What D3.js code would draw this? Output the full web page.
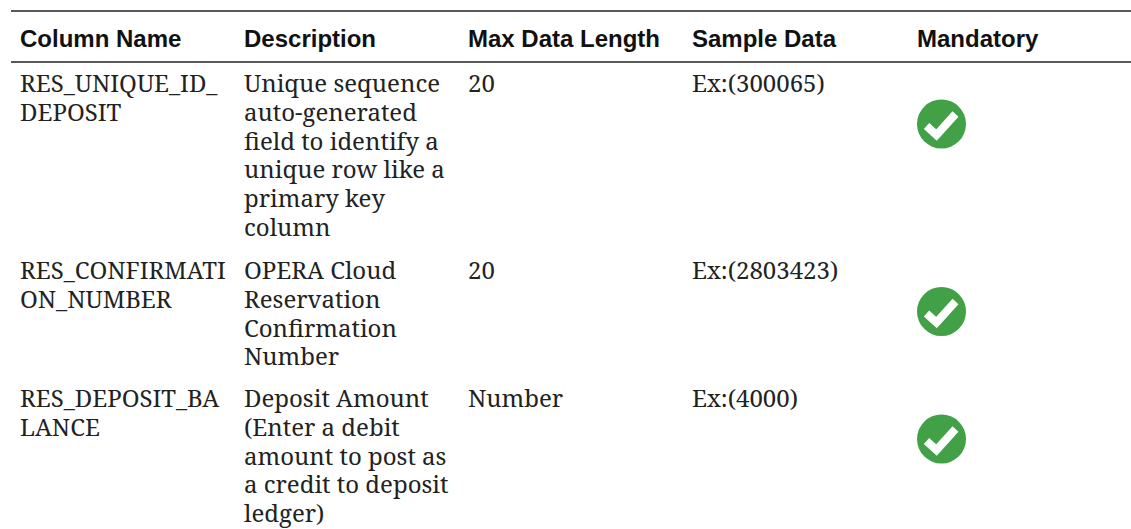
<!DOCTYPE html>
<html><head><meta charset="utf-8">
<script src="https://cdnjs.cloudflare.com/ajax/libs/d3/7.8.5/d3.min.js"></script>
<style>html,body{margin:0;padding:0;background:#fff}svg{display:block}</style></head>
<body><svg id="c" width="1131" height="529"></svg>
<script>
const headers = ["Column Name","Description","Max Data Length","Sample Data","Mandatory"];
const columnNames = [["RES_UNIQUE_ID_","DEPOSIT"],["RES_CONFIRMATI","ON_NUMBER"],["RES_DEPOSIT_BA","LANCE"]];
const descriptions = [
 ["Unique sequence","auto-generated","field to identify a","unique row like a","primary key","column"],
 ["OPERA Cloud","Reservation","Confirmation","Number"],
 ["Deposit Amount","(Enter a debit","amount to post as","a credit to deposit","ledger)"]];
const maxLengths = ["20","20","Number"];
const samples = ["Ex:(300065)","Ex:(2803423)","Ex:(4000)"];
const mandatory = [true,true,true];

const svg = d3.select("#c");
const colX = d3.scaleOrdinal().domain(headers).range([20,244,468,692,917]);
const rowY = d3.scaleOrdinal().domain([0,1,2]).range([92,279,407]);
const iconY = d3.scaleOrdinal().domain([0,1,2]).range([124,311.5,439]);
const lineStep = 28.8;
const serif = "'Noto Serif','DejaVu Serif',serif";

const defs = svg.append("defs");
defs.append("filter").attr("id","soft").append("feGaussianBlur").attr("stdDeviation",0.7);

svg.selectAll("line.rule").data([11,62]).join("line").attr("class","rule")
  .attr("x1",11).attr("x2",1131).attr("y1",d=>d).attr("y2",d=>d)
  .attr("stroke","#222").attr("stroke-width",1.5);

svg.selectAll("text.h").data(headers).join("text").attr("class","h")
  .attr("x",d=>colX(d)).attr("y",47)
  .attr("font-family","'Liberation Sans',Arial,sans-serif").attr("font-weight","bold")
  .attr("font-size",24).attr("fill","#111").text(d=>d);

function block(cls, rows, col){
  rows.forEach((lines,r)=>{
    svg.selectAll(`text.${cls}${r}`).data(lines).join("text").attr("class",cls+r)
      .attr("x",colX(col)).attr("y",(d,i)=>rowY(r)+i*lineStep)
      .attr("font-family",serif).attr("font-size",24).attr("fill","#222").text(d=>d);
  });
}
block("n",columnNames,headers[0]);
block("d",descriptions,headers[1]);
block("m",maxLengths.map(d=>[d]),headers[2]);
block("s",samples.map(d=>[d]),headers[3]);

const icons = svg.selectAll("g.ic").data(mandatory.map((d,i)=>i).filter(i=>mandatory[i])).join("g").attr("class","ic")
  .attr("transform",i=>`translate(941.5,${iconY(i)})`).attr("filter","url(#soft)");
icons.append("circle").attr("r",24.5).attr("fill","#43a047");
icons.append("path").attr("d","M-15,2 L-5,11 L14,-10").attr("fill","none").attr("stroke","#fff").attr("stroke-width",8);
</script></body></html>
